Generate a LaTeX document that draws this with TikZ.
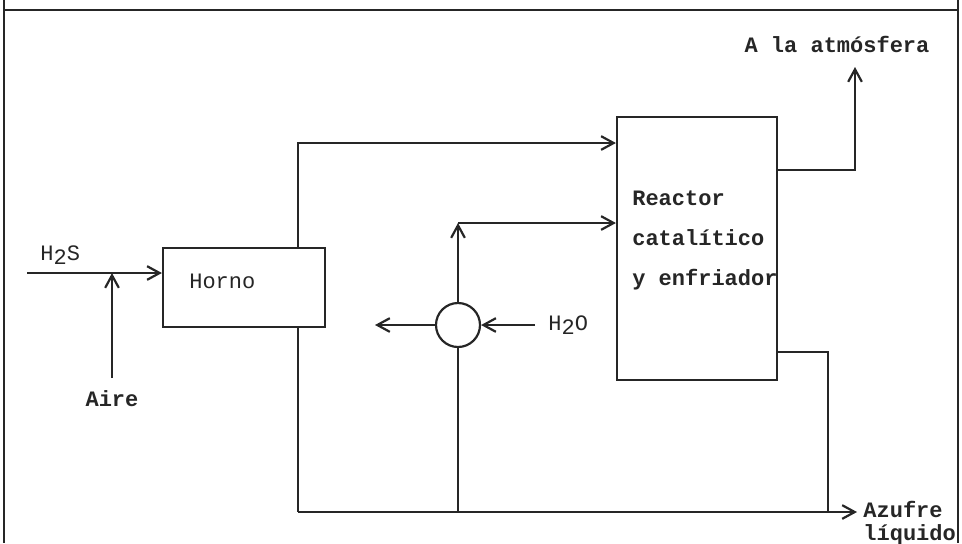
\documentclass[tikz,border=0pt]{standalone}
\usepackage{fontspec}
\setmonofont{Liberation Mono}
\usetikzlibrary{positioning,arrows.meta}
\tikzset{
  unitbox/.style={draw=black!85,line width=1.1pt,fill=white,inner sep=0pt},
  mixer/.style={draw=black!85,circle,line width=1.1pt,minimum size=22pt,inner sep=0pt},
  lbl/.style={font=\ttfamily\fontsize{11}{13}\selectfont,inner sep=0pt,text=black!85},
  blbl/.style={lbl,font=\ttfamily\bfseries\fontsize{11}{13}\selectfont},
  arr/.style={-{Straight Barb[length=2.2mm,width=2.4mm]},line width=1.1pt,draw=black!85},
  ln/.style={line width=1.1pt,draw=black!85}
}

\begin{document}
\begin{tikzpicture}[x=0.5pt,y=0.5pt]
  \useasboundingbox (0,0) rectangle (962,-543);
  % frame of the sheet
  \draw[ln] (4,0) -- (4,-543) (958,0) -- (958,-543) (4,-10) -- (958,-10);

  % units
  \node[unitbox,minimum width=81pt,minimum height=39.5pt] (horno) at (244,-287.5) {};
  \node[lbl,right=13.5pt of horno.west,yshift=3pt] (hornotxt) {Horno};
  \node[unitbox,minimum width=80pt,minimum height=131.5pt] (reactor) at (697,-248.5) {};
  \node[blbl,font=\ttfamily\bfseries\fontsize{11}{20}\selectfont,align=left,right=8pt of reactor.west,yshift=4pt] (reactortxt) {Reactor\\catalítico\\y enfriador};
  \node[mixer] (mix) at (458,-325) {};

  % pipe ends and bends
  \coordinate (h2sin) at (27,-273);
  \coordinate (airin) at (112,-378);
  \coordinate (ja) at (298,-143);
  \coordinate (jb) at (298,-512);
  \coordinate (jc) at (458,-223);
  \coordinate (wout) at (375,-325);
  \coordinate (h2oin) at (535,-325);
  \coordinate (gtop) at (855,-170);
  \coordinate (atm) at (855,-67);
  \coordinate (sulf) at (828,-352);
  \coordinate (sout) at (857,-512);

  % stream labels
  \node[lbl,above right=4pt and 6.5pt of h2sin] (h2slbl) {H\raisebox{-0.35ex}{2}S};
  \node[blbl,below=6pt of airin] (airlbl) {Aire};
  \node[lbl,right=6.5pt of h2oin] (h2olbl) {H\raisebox{-0.35ex}{2}O};
  \node[blbl,above=7pt of atm,xshift=-9pt] (atmlbl) {A la atmósfera};
  \node[blbl,font=\ttfamily\bfseries\fontsize{11}{11.5}\selectfont,align=left,right=3pt of sout,yshift=-5.75pt] (sulflbl) {Azufre\\líquido};

  % streams
  \draw[arr] (h2sin) -- (h2sin -| horno.west);
  \draw[arr] (airin) -- (airin |- h2sin);
  \draw[arr] (horno.north -| ja) -- (ja) -- (ja -| reactor.west);
  \draw[ln] (horno.south -| jb) -- (jb);
  \draw[arr] (jb) -- (sout);
  \draw[arr] (mix.north) -- (jc);
  \draw[arr] (jc) -- (jc -| reactor.west);
  \draw[ln] (mix.south) -- (mix.south |- jb);
  \draw[arr] (mix.west) -- (wout);
  \draw[arr] (h2oin) -- (mix.east);
  \draw[arr] (gtop -| reactor.east) -- (gtop) -- (atm);
  \draw[ln] (sulf -| reactor.east) -- (sulf) -- (sulf |- jb);
\end{tikzpicture}
\end{document}
